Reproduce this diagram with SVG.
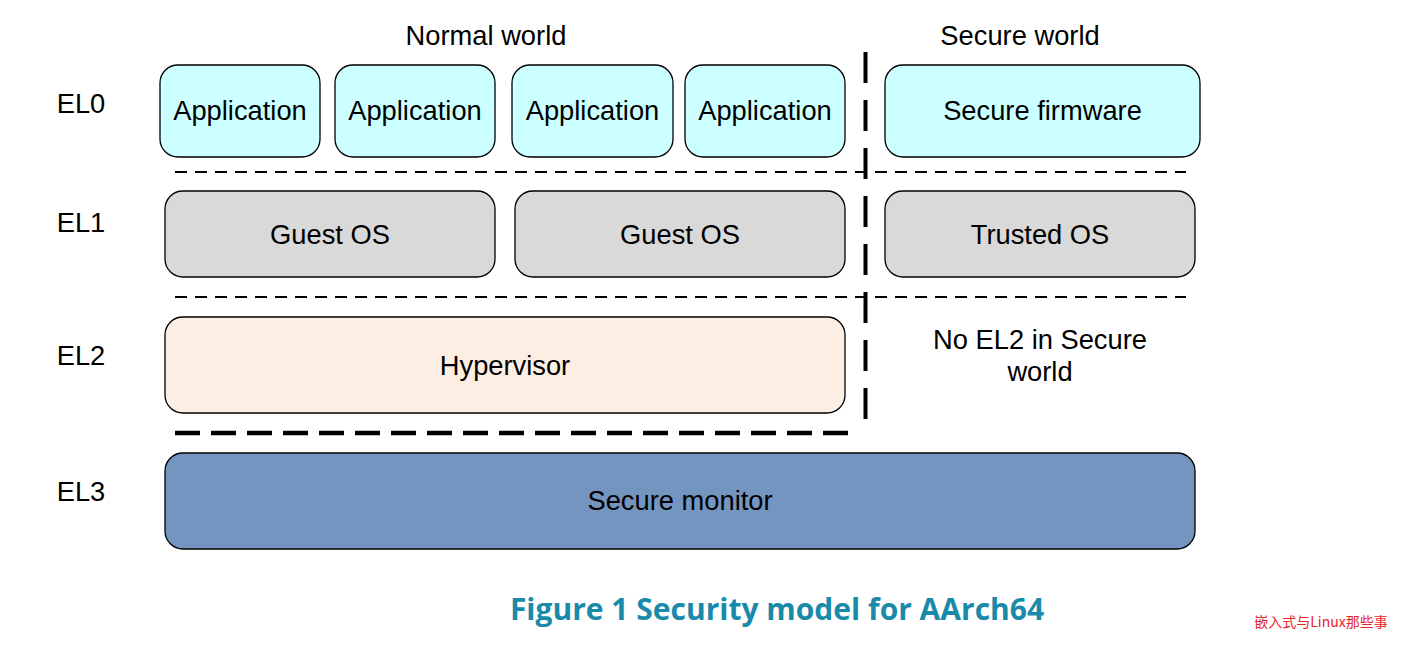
<svg xmlns="http://www.w3.org/2000/svg" width="1407" height="649" viewBox="0 0 1407 649">
<style>
.t{font-family:"Liberation Sans",Arial,sans-serif;font-size:27.3px;fill:#000;text-anchor:middle;dominant-baseline:central}
.box{stroke:#000;stroke-width:1.3}
.app{fill:#CCFFFF}
.os{fill:#D9D9D9}
.hyp{fill:#FDEEE4}
.mon{fill:#7395C0}
.thin{stroke:#000;stroke-width:2;stroke-dasharray:12 8;fill:none}
.thick{stroke:#000;stroke-width:4.5;stroke-dasharray:25 11;fill:none}
.vert{stroke:#000;stroke-width:4;stroke-dasharray:31 17;fill:none}
</style>
<rect width="1407" height="649" fill="#fff"/>
<g id="labels">
<text class="t" x="486" y="35">Normal world</text>
<text class="t" x="1020" y="35">Secure world</text>
<text class="t" x="81" y="103">EL0</text>
<text class="t" x="81" y="222">EL1</text>
<text class="t" x="81" y="355">EL2</text>
<text class="t" x="81" y="491">EL3</text>
</g>
<g id="app1"><rect class="box app" x="160" y="65" width="160" height="92" rx="18"/><text class="t" x="240" y="110">Application</text></g>
<g id="app2"><rect class="box app" x="335" y="65" width="160" height="92" rx="18"/><text class="t" x="415" y="110">Application</text></g>
<g id="app3"><rect class="box app" x="512" y="65" width="161" height="92" rx="18"/><text class="t" x="592.5" y="110">Application</text></g>
<g id="app4"><rect class="box app" x="685" y="65" width="160" height="92" rx="18"/><text class="t" x="765" y="110">Application</text></g>
<g id="securefw"><rect class="box app" x="885" y="65" width="315" height="92" rx="18"/><text class="t" x="1042.5" y="110">Secure firmware</text></g>
<g id="guest1"><rect class="box os" x="165" y="191" width="330" height="86" rx="18"/><text class="t" x="330" y="234">Guest OS</text></g>
<g id="guest2"><rect class="box os" x="515" y="191" width="330" height="86" rx="18"/><text class="t" x="680" y="234">Guest OS</text></g>
<g id="trusted"><rect class="box os" x="885" y="191" width="310" height="86" rx="18"/><text class="t" x="1040" y="234">Trusted OS</text></g>
<g id="hypervisor"><rect class="box hyp" x="165" y="317" width="680" height="96" rx="18"/><text class="t" x="505" y="365">Hypervisor</text></g>
<g id="noel2"><text class="t" x="1040" y="339">No EL2 in Secure</text><text class="t" x="1040" y="371">world</text></g>
<g id="monitor"><rect class="box mon" x="165" y="453" width="1030" height="96" rx="18"/><text class="t" x="680" y="500">Secure monitor</text></g>
<g id="connectors">
<line class="thin" x1="175" y1="172" x2="1186" y2="172"/>
<line class="thin" x1="175" y1="297" x2="1186" y2="297"/>
<line class="thick" x1="175" y1="433" x2="850" y2="433"/>
<line class="vert" x1="865.5" y1="52" x2="865.5" y2="424"/>
</g>
<text x="777" y="608" text-anchor="middle" dominant-baseline="central" style="font-family:'Open Sans','Noto Sans',sans-serif;font-weight:bold;font-size:30px;fill:#1A8AAA">Figure 1 Security model for AArch64</text>
<text x="1321" y="621" text-anchor="middle" dominant-baseline="central" style="font-family:'Noto Sans CJK SC',sans-serif;font-size:14px;fill:#E8252B">嵌入式与Linux那些事</text>
</svg>
